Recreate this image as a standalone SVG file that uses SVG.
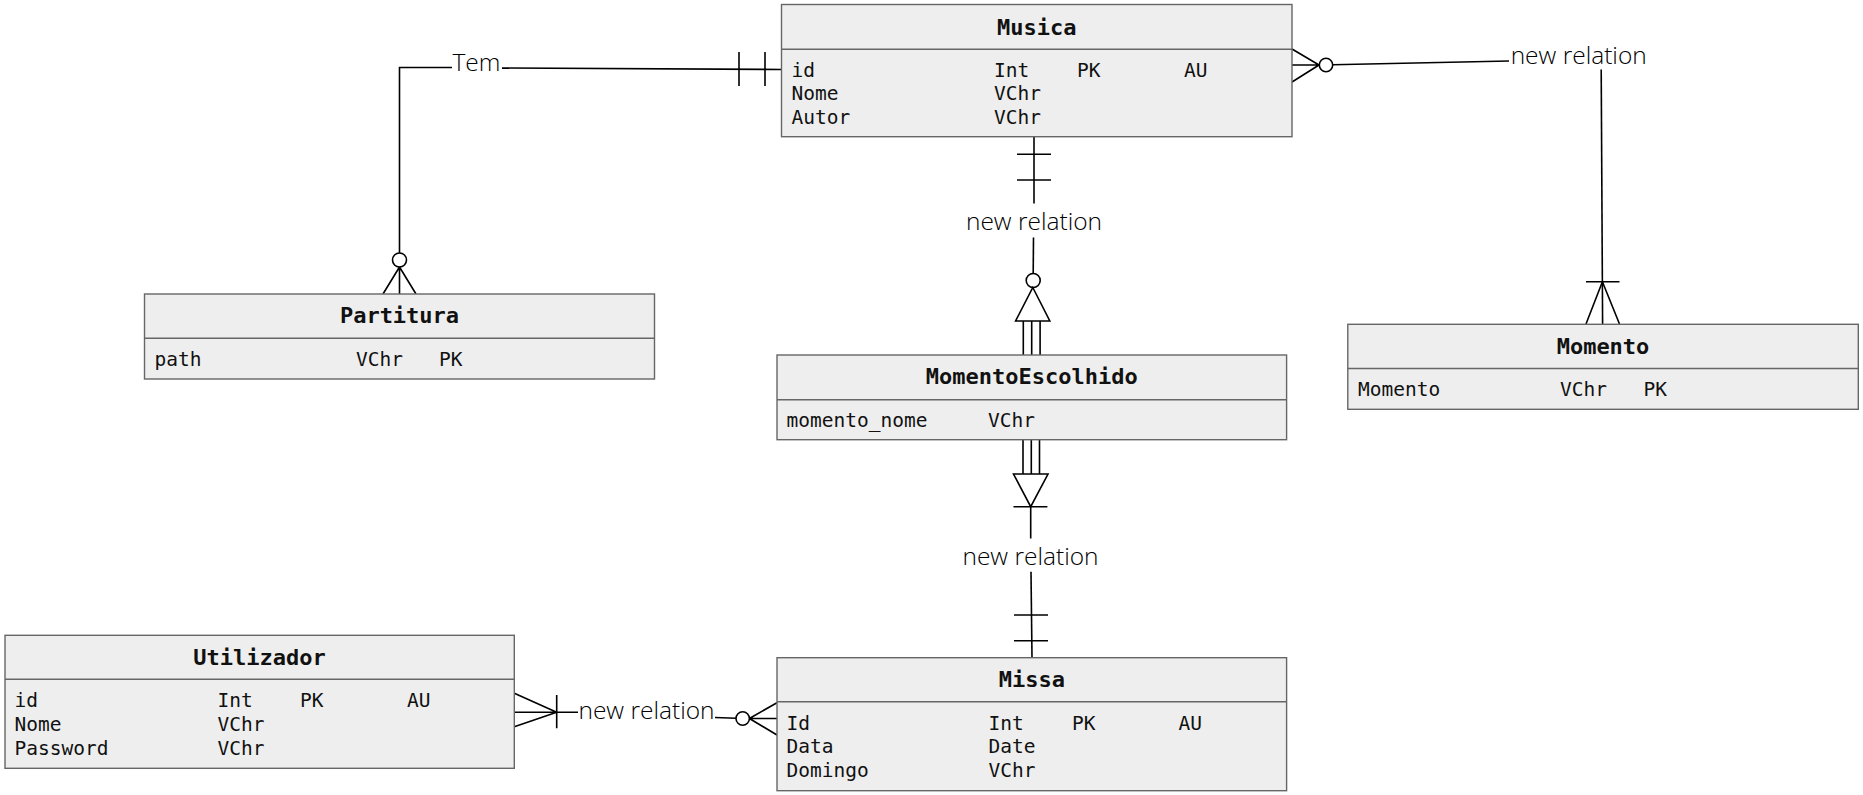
<svg xmlns="http://www.w3.org/2000/svg" width="1863" height="795" viewBox="0 0 1863 795">
<style>
.box{fill:#eeeeee;stroke:#666666;stroke-width:1.4}
.sep{stroke:#666666;stroke-width:1.4}
.title{font-family:"DejaVu Sans Mono","Liberation Mono",monospace;font-weight:bold;font-size:22px;fill:#111;text-anchor:middle}
.row{font-family:"DejaVu Sans Mono","Liberation Mono",monospace;font-size:19.5px;fill:#111}
.lbl{font-family:"Open Sans","Noto Sans",sans-serif;font-weight:300;font-size:24.5px;fill:#000;text-anchor:middle}
.c{fill:none;stroke:#000;stroke-width:1.6}
.o{fill:#fff;stroke:#000;stroke-width:1.6}
</style>
<rect width="1863" height="795" fill="#ffffff"/>

<g id="connectors">
  <!-- Musica - Partitura (Tem) -->
  <path class="c" d="M782 69.5 L502 68"/>
  <path class="c" d="M739 52 V86 M765 52 V86"/>
  <path class="c" d="M452 67.5 H399.5 V253"/>
  <circle class="o" cx="399.5" cy="260" r="7"/>
  <path class="c" d="M399.5 267 L383 294 M399.5 267 V294 M399.5 267 L416 294"/>
  <text class="lbl" x="476.5" y="71">Tem</text>

  <!-- Musica - Momento -->
  <path class="c" d="M1292 49 L1319 65 M1292 65 H1319 M1292 82 L1319 65"/>
  <circle class="o" cx="1326" cy="65" r="6.7"/>
  <path class="c" d="M1332.7 64.8 L1509 61"/>
  <path class="c" d="M1601.2 69.5 L1602.6 324"/>
  <path class="c" d="M1586 281.7 H1619.5 M1602.4 281.7 L1586 324 M1602.4 281.7 L1619.5 324"/>
  <text class="lbl" x="1578.7" y="63.5">new relation</text>

  <!-- Musica - MomentoEscolhido -->
  <path class="c" d="M1034 137 V203.5"/>
  <path class="c" d="M1017 154.3 H1051 M1017 180 H1051"/>
  <text class="lbl" x="1034" y="230">new relation</text>
  <path class="c" d="M1033.5 237.5 L1033.2 273.5"/>
  <circle class="o" cx="1033.2" cy="280.5" r="7"/>
  <path class="o" d="M1032.8 287.5 L1049.8 321 H1015.6 Z"/>
  <path class="c" d="M1023.3 321 V355 M1031.7 321 V355 M1040.1 321 V355"/>

  <!-- MomentoEscolhido - Missa -->
  <path class="c" d="M1023 440 V474 M1031.3 440 V474 M1039.5 440 V474"/>
  <path class="o" d="M1013.5 474 H1048 L1030.7 506.7 Z"/>
  <path class="c" d="M1013.5 506.7 H1047.4 M1030.7 506.7 V538.5"/>
  <text class="lbl" x="1030.5" y="565">new relation</text>
  <path class="c" d="M1031 571.7 L1032 657.7"/>
  <path class="c" d="M1014 615 H1048 M1014 640.7 H1048"/>

  <!-- Utilizador - Missa -->
  <path class="c" d="M514.3 693.3 L556.7 712.3 M514.3 712.3 H556.7 M514.3 726.7 L556.7 712.3"/>
  <path class="c" d="M556.7 695 V728.3 M556.7 712.3 H578"/>
  <text class="lbl" x="646.5" y="719">new relation</text>
  <path class="c" d="M715 717.5 L736 718.3"/>
  <circle class="o" cx="742.7" cy="718.5" r="6.7"/>
  <path class="c" d="M749.4 718.5 L777 702.7 M749.4 718.5 H777 M749.4 718.5 L777 735"/>
</g>

<g id="Musica">
  <rect class="box" x="781.5" y="4.5" width="510.5" height="132.2"/>
  <line class="sep" x1="781.5" y1="49.3" x2="1292" y2="49.3"/>
  <text class="title" x="1036.7" y="35">Musica</text>
  <text class="row" x="791.5" y="76.5">id</text>
  <text class="row" x="994" y="76.5">Int</text>
  <text class="row" x="1077" y="76.5">PK</text>
  <text class="row" x="1184" y="76.5">AU</text>
  <text class="row" x="791.5" y="100">Nome</text>
  <text class="row" x="994" y="100">VChr</text>
  <text class="row" x="791.5" y="123.5">Autor</text>
  <text class="row" x="994" y="123.5">VChr</text>
</g>

<g id="Partitura">
  <rect class="box" x="144.5" y="294" width="510" height="85"/>
  <line class="sep" x1="144.5" y1="338.3" x2="654.5" y2="338.3"/>
  <text class="title" x="399.5" y="323">Partitura</text>
  <text class="row" x="154.5" y="366">path</text>
  <text class="row" x="356" y="366">VChr</text>
  <text class="row" x="439" y="366">PK</text>
</g>

<g id="Momento">
  <rect class="box" x="1347.8" y="324.3" width="510.5" height="85"/>
  <line class="sep" x1="1347.8" y1="368.5" x2="1858.3" y2="368.5"/>
  <text class="title" x="1603" y="354">Momento</text>
  <text class="row" x="1358" y="396">Momento</text>
  <text class="row" x="1560" y="396">VChr</text>
  <text class="row" x="1643.5" y="396">PK</text>
</g>

<g id="MomentoEscolhido">
  <rect class="box" x="777" y="355" width="509.6" height="84.7"/>
  <line class="sep" x1="777" y1="399.7" x2="1286.6" y2="399.7"/>
  <text class="title" x="1031.8" y="384">MomentoEscolhido</text>
  <text class="row" x="786.5" y="427.3">momento_nome</text>
  <text class="row" x="988" y="427.3">VChr</text>
</g>

<g id="Missa">
  <rect class="box" x="777" y="657.7" width="509.6" height="133"/>
  <line class="sep" x1="777" y1="701.7" x2="1286.6" y2="701.7"/>
  <text class="title" x="1031.8" y="687">Missa</text>
  <text class="row" x="786.5" y="729.5">Id</text>
  <text class="row" x="988.5" y="729.5">Int</text>
  <text class="row" x="1072" y="729.5">PK</text>
  <text class="row" x="1178.5" y="729.5">AU</text>
  <text class="row" x="786.5" y="753">Data</text>
  <text class="row" x="988.5" y="753">Date</text>
  <text class="row" x="786.5" y="776.5">Domingo</text>
  <text class="row" x="988.5" y="776.5">VChr</text>
</g>

<g id="Utilizador">
  <rect class="box" x="5" y="635.3" width="509.3" height="133"/>
  <line class="sep" x1="5" y1="679.3" x2="514.3" y2="679.3"/>
  <text class="title" x="259.6" y="665">Utilizador</text>
  <text class="row" x="14.5" y="707">id</text>
  <text class="row" x="217.5" y="707">Int</text>
  <text class="row" x="300" y="707">PK</text>
  <text class="row" x="407" y="707">AU</text>
  <text class="row" x="14.5" y="730.7">Nome</text>
  <text class="row" x="217.5" y="730.7">VChr</text>
  <text class="row" x="14.5" y="754.5">Password</text>
  <text class="row" x="217.5" y="754.5">VChr</text>
</g>
</svg>
